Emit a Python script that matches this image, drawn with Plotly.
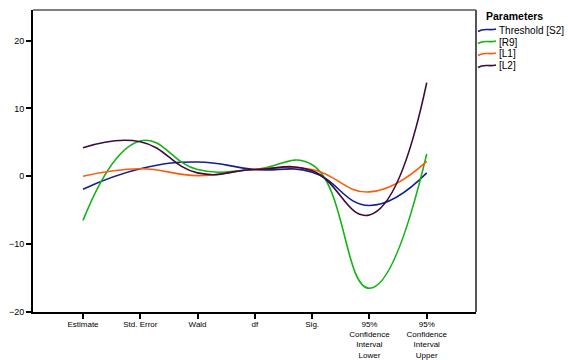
import plotly.graph_objects as go

categories = ["Estimate", "Std. Error", "Wald", "df", "Sig.",
              "95%<br>Confidence<br>Interval<br>Lower",
              "95%<br>Confidence<br>Interval<br>Upper"]
series_names = ["Threshold [S2]", "[R9]", "[L1]", "[L2]"]
threshold_s2 = [-1.9, 1.1, 2.1, 1.0, 0.6, -4.3, 0.5]
r9 = [-6.5, 5.2, 1.0, 1.0, 1.7, -16.5, 3.3]
l1 = [0.0, 1.1, 0.1, 1.0, 1.0, -2.3, 2.2]
l2 = [4.2, 5.1, 0.5, 1.0, 0.8, -5.7, 13.8]
y_ticks = [-20, -10, 0, 10, 20]
legend_title = "Parameters"

colors = ["#13208f", "#12b312", "#ff5a0a", "#3d0a3d"]
values = [threshold_s2, r9, l1, l2]

W, H = 568, 360
ML, MR, MT, MB = 33, 92, 10, 48
PW, PH = W - ML - MR, H - MT - MB


def px(x):
    return (x - ML) / PW


def py(y):
    return (H - MB - y) / PH


fig = go.Figure()
for name, vals, col in zip(series_names, values, colors):
    fig.add_trace(go.Scatter(
        x=list(range(len(categories))), y=vals, name=name, mode="lines",
        line=dict(color=col, width=1.6, shape="spline", smoothing=1.3),
        showlegend=False, hoverinfo="skip",
    ))

font = "Liberation Sans, Arial, sans-serif"
fig.update_layout(
    width=W, height=H,
    margin=dict(l=ML, r=MR, t=MT, b=MB, autoexpand=False),
    plot_bgcolor="white", paper_bgcolor="white",
    font=dict(family=font, size=9, color="#000000"),
    showlegend=False,
    xaxis=dict(
        range=[-0.873, 6.86], tickmode="array",
        tickvals=list(range(len(categories))), ticktext=categories,
        ticks="outside", ticklen=5, tickwidth=2, tickcolor="#000",
        showgrid=False, zeroline=False, showline=True, linecolor="#000", linewidth=2,
        tickfont=dict(size=8, family=font), automargin=False, ticklabelstandoff=-2,
    ),
    yaxis=dict(
        range=[-20, 24.5], tickvals=y_ticks,
        ticks="outside", ticklen=5, tickwidth=2, tickcolor="#000",
        showgrid=False, zeroline=False, showline=True, linecolor="#000", linewidth=2,
        tickfont=dict(size=9, family=font), automargin=False,
    ),
)
fig.add_shape(type="line", xref="paper", yref="paper", x0=0, x1=1, y0=1, y1=1,
              line=dict(color="#555", width=1.5))
fig.add_shape(type="line", xref="paper", yref="paper", x0=1, x1=1, y0=0, y1=1,
              line=dict(color="#555", width=2))

# legend drawn by hand
fig.add_annotation(xref="paper", yref="paper", x=px(484), y=py(16), xanchor="left",
                   yanchor="middle", text="<b>" + legend_title + "</b>", showarrow=False,
                   font=dict(size=10.5, family=font, color="#000"))
for i, (name, col) in enumerate(zip(series_names, colors)):
    yc = 30 + 12 * i
    path = "M {},{} C {},{} {},{} {},{}".format(
        px(478), py(yc + 1.5), px(484), py(yc - 2.5), px(489), py(yc + 1), px(496), py(yc - 1))
    fig.add_shape(type="path", xref="paper", yref="paper", path=path,
                  line=dict(color=col, width=1.6))
    fig.add_annotation(xref="paper", yref="paper", x=px(497), y=py(yc), xanchor="left",
                       yanchor="middle", text=name, showarrow=False,
                       font=dict(size=10, family=font, color="#000"))
fig.write_html("out.html", config={"displayModeBar": False},
               post_script="document.body.style.margin='0px';document.body.style.overflow='hidden';")
